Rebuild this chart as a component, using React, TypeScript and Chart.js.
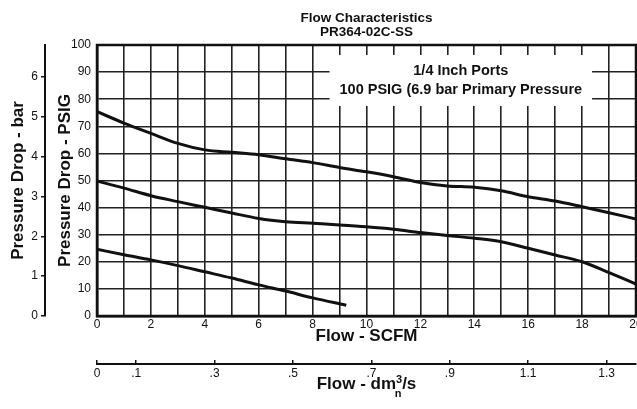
import React, { useEffect, useRef } from 'react';
import { Chart, registerables } from 'chart.js';

Chart.register(...registerables);

const FONT = '"Liberation Sans", Arial, Helvetica, sans-serif';
const INK = '#111111';

// ---- data ----
const flowScfm = [0, 1, 2, 3, 4, 5, 6, 7, 8, 9, 10, 11, 12, 13, 14, 15, 16, 17, 18, 19, 20];
const upperPsig = [75.4, 71.2, 67.4, 63.7, 61.3, 60.4, 59.5, 58.0, 56.6, 54.8, 53.2, 51.4, 49.3, 48.0, 47.5, 46.2, 44.0, 42.4, 40.3, 38.1, 35.8];
const middlePsig = [49.8, 47.2, 44.4, 42.2, 40.1, 38.0, 36.0, 34.8, 34.2, 33.6, 32.9, 32.0, 30.8, 29.7, 28.7, 27.4, 25.0, 22.5, 20.0, 16.0, 11.8];
const lowerFlowScfm = [0, 1, 2, 3, 4, 5, 6, 7, 8, 9.25];
const lowerPsig = [24.6, 22.6, 20.7, 18.6, 16.3, 14.0, 11.5, 9.2, 6.7, 4.0];

const barTicks = [0, 1, 2, 3, 4, 5, 6];
const dmTicks = [0, 0.1, 0.3, 0.5, 0.7, 0.9, 1.1, 1.3];
const dmTickLabels = ['0', '.1', '.3', '.5', '.7', '.9', '1.1', '1.3'];

const titleLines = ['Flow Characteristics', 'PR364-02C-SS'];
const noteLines = ['1/4 Inch Ports', '100 PSIG (6.9 bar Primary Pressure'];
const noteBoxScfm = [8.63, 18.37];
const noteBoxPsig = [77.5, 96.3];

const xTitle = 'Flow - SCFM';
const yTitle = 'Pressure Drop - PSIG';
const yBarTitle = 'Pressure Drop - bar';
const dmTitleMain = 'Flow - dm';
const dmTitleSup = '3';
const dmTitleSub = 'n';
const dmTitleTail = '/s';

const pts = (xs: number[], ys: number[]) => xs.map((x, i) => ({ x, y: ys[i] }));

const notePlugin = {
  id: 'noteBox',
  beforeDatasetsDraw(chart: any) {
    const { ctx, scales } = chart;
    const x = scales.x;
    const y = scales.y;
    const l = x.getPixelForValue(noteBoxScfm[0]);
    const r = x.getPixelForValue(noteBoxScfm[1]);
    const t = y.getPixelForValue(noteBoxPsig[1]);
    const b = y.getPixelForValue(noteBoxPsig[0]);
    ctx.save();
    ctx.fillStyle = '#ffffff';
    ctx.fillRect(l, t, r - l, b - t);
    ctx.fillStyle = INK;
    ctx.font = `bold 14.5px ${FONT}`;
    ctx.textAlign = 'center';
    ctx.textBaseline = 'middle';
    const cx = (l + r) / 2;
    ctx.fillText(noteLines[0], cx, t + 16);
    ctx.fillText(noteLines[1], cx, t + 35);
    ctx.restore();
  },
};

const framePlugin = {
  id: 'frame',
  afterDatasetsDraw(chart: any) {
    const { ctx, chartArea } = chart;
    ctx.save();
    ctx.strokeStyle = INK;
    ctx.lineWidth = 2.5;
    ctx.strokeRect(chartArea.left, chartArea.top, chartArea.right - chartArea.left, chartArea.bottom - chartArea.top);
    ctx.restore();
  },
};

const dmTitlePlugin = {
  id: 'dmTitle',
  afterDraw(chart: any) {
    const { ctx } = chart;
    const s = chart.scales.xDm;
    ctx.save();
    ctx.fillStyle = INK;
    ctx.textAlign = 'left';
    ctx.textBaseline = 'alphabetic';
    const big = `bold 17px ${FONT}`;
    const small = `bold 11px ${FONT}`;
    ctx.font = big;
    const wMain = ctx.measureText(dmTitleMain).width;
    const wTail = ctx.measureText(dmTitleTail).width;
    ctx.font = small;
    const wSup = ctx.measureText(dmTitleSup).width;
    const total = wMain + wSup + wTail;
    const cx = (s.left + s.right) / 2;
    const x0 = cx - total / 2;
    const base = s.top + 25;
    ctx.font = big;
    ctx.fillText(dmTitleMain, x0, base);
    ctx.fillText(dmTitleTail, x0 + wMain + wSup, base);
    ctx.font = small;
    ctx.fillText(dmTitleSup, x0 + wMain, base - 6);
    ctx.textAlign = 'center';
    ctx.fillText(dmTitleSub, x0 + wMain + wSup / 2 - 1, base + 8);
    ctx.restore();
  },
};

const zeroPad = (scale: any) => {
  scale.paddingLeft = 0;
  scale.paddingRight = 0;
  scale.paddingTop = 0;
  scale.paddingBottom = 0;
};

export default function App() {
  const ref = useRef<HTMLCanvasElement | null>(null);

  useEffect(() => {
    const canvas = ref.current;
    if (!canvas) return;
    const lineStyle = {
      borderColor: INK,
      backgroundColor: INK,
      borderWidth: 3,
      pointRadius: 0,
      fill: false,
      cubicInterpolationMode: 'monotone' as const,
      xAxisID: 'x',
      yAxisID: 'y',
    };
    const tickFont = { family: FONT, size: 12 };
    const titleFont = { family: FONT, size: 17, weight: 'bold' as const, lineHeight: 1.2 };
    const chart = new Chart(canvas, {
      type: 'line',
      data: {
        datasets: [
          { ...lineStyle, label: 'upper', data: pts(flowScfm, upperPsig) },
          { ...lineStyle, label: 'middle', data: pts(flowScfm, middlePsig) },
          { ...lineStyle, label: 'lower', data: pts(lowerFlowScfm, lowerPsig) },
        ],
      },
      options: {
        responsive: false,
        animation: false,
        devicePixelRatio: 1,
        layout: { padding: { left: 0, right: 1, top: 0, bottom: 0 } },
        plugins: {
          legend: { display: false },
          tooltip: { enabled: false },
          title: {
            display: true,
            text: titleLines,
            fullSize: false,
            color: INK,
            font: { family: FONT, size: 13.5, weight: 'bold', lineHeight: 14 / 13.5 },
            padding: { top: 11, bottom: 6 },
          },
        },
        scales: {
          x: {
            type: 'linear',
            position: 'bottom',
            weight: 0,
            min: 0,
            max: 20,
            ticks: {
              stepSize: 1,
              autoSkip: false,
              maxRotation: 0,
              padding: 1,
              color: INK,
              font: tickFont,
              callback: (v: any) => (Number(v) % 2 === 0 ? String(v) : ''),
            },
            grid: { color: '#222', lineWidth: 1.6, drawTicks: false },
            border: { display: true, color: INK, width: 2.5 },
            title: {
              display: true,
              text: xTitle,
              color: INK,
              font: titleFont,
              padding: { top: 0, bottom: 17 },
            },
            afterFit: (s: any) => {
              s.height = 48;
              zeroPad(s);
            },
          },
          xDm: {
            type: 'linear',
            position: 'bottom',
            weight: 1,
            min: 0,
            max: 1.375,
            afterBuildTicks: (s: any) => {
              s.ticks = dmTicks.map((value) => ({ value }));
            },
            ticks: {
              autoSkip: false,
              maxRotation: 0,
              padding: 6,
              color: INK,
              font: tickFont,
              callback: (v: any) => {
                const i = dmTicks.findIndex((d) => Math.abs(d - Number(v)) < 1e-6);
                return i >= 0 ? dmTickLabels[i] : '';
              },
            },
            grid: { drawOnChartArea: false, drawTicks: true, tickLength: -4, color: INK, lineWidth: 1.5 },
            border: { display: true, color: INK, width: 2 },
            afterFit: (s: any) => {
              s.height = 45;
              zeroPad(s);
            },
          },
          y: {
            type: 'linear',
            position: 'left',
            weight: 0,
            min: 0,
            max: 100,
            ticks: { stepSize: 10, padding: 6, color: INK, font: tickFont },
            grid: { color: '#222', lineWidth: 1.6, drawTicks: false },
            border: { display: true, color: INK, width: 2.5 },
            title: {
              display: true,
              text: yTitle,
              color: INK,
              font: titleFont,
              padding: { top: 10, bottom: 0 },
            },
            afterFit: (s: any) => {
              s.width = 52;
              zeroPad(s);
            },
          },
          yBar: {
            type: 'linear',
            position: 'left',
            weight: 1,
            min: 0,
            max: 6.8,
            afterBuildTicks: (s: any) => {
              s.ticks = barTicks.map((value) => ({ value }));
            },
            ticks: { padding: 3, color: INK, font: tickFont },
            grid: { drawOnChartArea: false, drawTicks: true, tickLength: 4, color: INK, lineWidth: 1.5 },
            border: { display: true, color: INK, width: 2 },
            title: {
              display: true,
              text: yBarTitle,
              color: INK,
              font: titleFont,
              padding: { top: 8, bottom: 0 },
            },
            afterFit: (s: any) => {
              s.width = 45;
              zeroPad(s);
            },
          },
        },
      } as any,
      plugins: [notePlugin, framePlugin, dmTitlePlugin],
    });
    return () => chart.destroy();
  }, []);

  return (
    <div style={{ position: 'fixed', left: 0, top: 0, width: 637, height: 409, background: '#fff' }}>
      <canvas ref={ref} width={637} height={409} style={{ display: 'block' }} />
    </div>
  );
}
